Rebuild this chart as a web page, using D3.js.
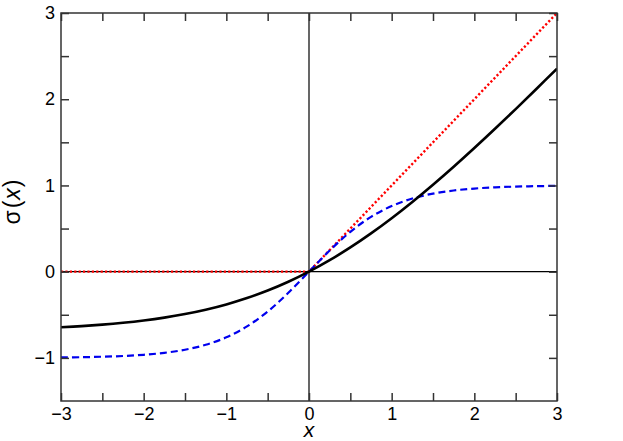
<!DOCTYPE html>
<html><head><meta charset="utf-8">
<script src="https://cdn.jsdelivr.net/npm/d3@7"></script>
<style>body{margin:0;background:#fff}svg{display:block}</style>
</head><body>
<svg id="c" width="623" height="441"></svg>
<script>
const xs = [-3,-2.75,-2.5,-2.25,-2,-1.75,-1.5,-1.25,-1,-0.75,-0.5,-0.25,0,0.25,0.5,0.75,1,1.25,1.5,1.75,2,2.25,2.5,2.75,3];
const softplusShift = [-0.6446,-0.6312,-0.6143,-0.5929,-0.5662,-0.5329,-0.4917,-0.4412,-0.3799,-0.3063,-0.2191,-0.1172,0,0.1328,0.2809,0.4437,0.6201,0.8088,1.0083,1.2171,1.4338,1.6571,1.8857,2.1188,2.3554];
const tanhVals = [-0.9951,-0.9919,-0.9866,-0.9780,-0.9640,-0.9414,-0.9052,-0.8483,-0.7616,-0.6352,-0.4621,-0.2449,0,0.2449,0.4621,0.6352,0.7616,0.8483,0.9052,0.9414,0.9640,0.9780,0.9866,0.9919,0.9951];
const reluX = [-3,0,3];
const reluVals = [0,0,3];
const xTicks = [-3,-2,-1,0,1,2,3];
const xMinor = [-2.5,-1.5,-0.5,0.5,1.5,2.5];
const yTicks = [-1,0,1,2,3];
const yMinor = [-0.5,0.5,1.5,2.5];

const svg = d3.select("#c");
const L=61,R=557,T=13,B=401;
const x = d3.scaleLinear().domain([-3,3]).range([L,R]);
const y = d3.scaleLinear().domain([-1.5,3]).range([B,T]);
const fmt = d => d<0 ? "\u2212"+Math.abs(d) : String(d);
const font = "Liberation Sans, Arial, Helvetica, sans-serif";

svg.append("clipPath").attr("id","pc").append("rect")
  .attr("x",L).attr("y",T).attr("width",R-L).attr("height",B-T);

// zero lines
svg.append("line").attr("x1",x(0)).attr("x2",x(0)).attr("y1",T).attr("y2",B).attr("stroke","#000").attr("stroke-width",1.2);
svg.append("line").attr("x1",L).attr("x2",R).attr("y1",y(0)).attr("y2",y(0)).attr("stroke","#000").attr("stroke-width",1.2);

const g = svg.append("g").attr("clip-path","url(#pc)");
const smooth = d3.line().curve(d3.curveCatmullRom);
const straight = d3.line();
g.append("path").attr("d", straight(reluX.map((v,i)=>[x(v),y(reluVals[i])])))
  .attr("fill","none").attr("stroke","#ff0000").attr("stroke-width",2.4).attr("stroke-dasharray","2.2,2.2");
g.append("path").attr("d", smooth(xs.map((v,i)=>[x(v),y(tanhVals[i])])))
  .attr("fill","none").attr("stroke","#0000ee").attr("stroke-width",2.2).attr("stroke-dasharray","7,4");
g.append("path").attr("d", smooth(xs.map((v,i)=>[x(v),y(softplusShift[i])])))
  .attr("fill","none").attr("stroke","#000").attr("stroke-width",2.6);

function styleAxis(sel, labels){
  sel.select(".domain").remove();
  sel.selectAll(".tick line").attr("stroke","#333").attr("stroke-width",1.5);
  sel.selectAll(".tick text").attr("font-family",font).attr("font-size",18).attr("fill","#000");
  if(!labels) sel.selectAll(".tick text").remove();
}
const allX = xTicks.concat(xMinor), allY = yTicks.concat(yMinor);
styleAxis(svg.append("g").attr("transform",`translate(0,${B})`).call(d3.axisBottom(x).tickValues(allX).tickSize(-8).tickPadding(6).tickFormat(d=>xTicks.includes(d)?fmt(d):"")), true);
styleAxis(svg.append("g").attr("transform",`translate(0,${T})`).call(d3.axisTop(x).tickValues(allX).tickSize(-8)), false);
styleAxis(svg.append("g").attr("transform",`translate(${L},0)`).call(d3.axisLeft(y).tickValues(allY).tickSize(-8).tickPadding(6).tickFormat(d=>yTicks.includes(d)?fmt(d):"")), true);
styleAxis(svg.append("g").attr("transform",`translate(${R},0)`).call(d3.axisRight(y).tickValues(allY).tickSize(-8)), false);

svg.append("rect").attr("x",L).attr("y",T).attr("width",R-L).attr("height",B-T)
  .attr("fill","none").attr("stroke","#333").attr("stroke-width",1.5);

svg.append("text").attr("x",x(0)).attr("y",437).attr("text-anchor","middle")
  .attr("font-family",font).attr("font-size",21).attr("font-style","italic").text("x");
const yl = svg.append("text").attr("transform",`translate(20,202) rotate(-90)`).attr("text-anchor","middle")
  .attr("font-family",font).attr("font-size",23);
yl.append("tspan").text("σ");
yl.append("tspan").attr("dx",2).text("(");
yl.append("tspan").attr("dx",1).attr("font-style","italic").text("x");
yl.append("tspan").attr("dx",1).text(")");
</script>
</body></html>
